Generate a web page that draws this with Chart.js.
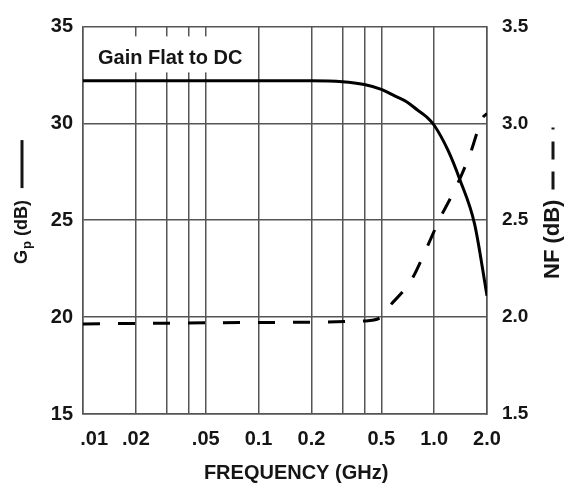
<!DOCTYPE html>
<html>
<head>
<meta charset="utf-8">
<script src="https://cdn.jsdelivr.net/npm/chart.js@4.4.0/dist/chart.umd.min.js"></script>
<style>
  html, body { margin: 0; padding: 0; background: #fff; }
</style>
</head>
<body>
<canvas id="gain-nf" width="566" height="492"></canvas>
<script>
// Gain curve (GHz, dB)
var gainFreq = [0.01, 0.1, 0.2, 0.3, 0.4, 0.5, 0.6, 0.7, 0.8, 0.9, 1.0, 1.2, 1.4, 1.7, 2.0];
var gainDb   = [32.2, 32.2, 32.2, 32.15, 32.0, 31.75, 31.4, 31.1, 30.7, 30.35, 29.9, 28.6, 27.1, 24.8, 21.1];

// Noise figure curve (GHz, dB)
var nfFreq = [0.01, 0.1, 0.4, 0.5, 0.55, 0.74, 0.91, 1.08, 1.34, 1.6, 1.88, 2.0];
var nfDb   = [1.965, 1.972, 1.98, 2.0, 2.05, 2.19, 2.36, 2.51, 2.675, 2.84, 3.025, 3.05];

// Frequency grid lines and their labels
var freqTicks  = [0.01, 0.02, 0.03, 0.04, 0.05, 0.1, 0.2, 0.3, 0.4, 0.5, 1.0, 2.0];
var freqLabels = ['    .01', '.02', '', '', '.05', '0.1', '0.2', '', '', '0.5', '1.0', '2.0'];

var gridColor = '#555';
var textColor = '#151515';
var fontName = '"Liberation Sans", Arial, sans-serif';

function toPoints(xs, ys) {
  var pts = [];
  for (var i = 0; i < xs.length; i++) pts.push({ x: xs[i], y: ys[i] });
  return pts;
}

// Axis titles with legend line samples, and the note box
var extraText = {
  id: 'extraText',
  beforeDatasetsDraw: function(chart) {
    var ctx = chart.ctx;
    var area = chart.chartArea;
    ctx.save();
    ctx.fillStyle = '#fff';
    ctx.fillRect(area.left + 1, area.top + 10, 172, 36);
    ctx.fillStyle = textColor;
    ctx.font = 'bold 20px ' + fontName;
    ctx.textBaseline = 'middle';
    ctx.fillText('Gain Flat to DC', area.left + 15, area.top + 32);
    ctx.restore();
  },
  afterDraw: function(chart) {
    var ctx = chart.ctx;
    ctx.save();
    ctx.fillStyle = textColor;
    ctx.strokeStyle = textColor;
    ctx.textBaseline = 'middle';

    // left: Gp (dB) ——
    ctx.translate(22, 264);
    ctx.rotate(-Math.PI / 2);
    ctx.font = 'bold 18px ' + fontName;
    var x = 0;
    ctx.fillText('G', x, 0);
    x += ctx.measureText('G').width;
    ctx.font = 'bold 13px ' + fontName;
    ctx.fillText('p', x + 1, 5);
    x += ctx.measureText('p').width + 1;
    ctx.font = 'bold 18px ' + fontName;
    ctx.fillText(' (dB)', x, 0);
    x += ctx.measureText(' (dB)').width;
    ctx.lineWidth = 3;
    ctx.beginPath();
    ctx.moveTo(x + 12, 0);
    ctx.lineTo(x + 60, 0);
    ctx.stroke();
    ctx.restore();

    // right: NF (dB) — —
    ctx.save();
    ctx.fillStyle = textColor;
    ctx.strokeStyle = textColor;
    ctx.textBaseline = 'middle';
    ctx.translate(553, 279);
    ctx.rotate(-Math.PI / 2);
    ctx.font = 'bold 22px ' + fontName;
    ctx.fillText('NF (dB)', 0, 0);
    x = ctx.measureText('NF (dB)').width;
    ctx.lineWidth = 3;
    ctx.setLineDash([18, 12]);
    ctx.beginPath();
    ctx.moveTo(x + 10, 0);
    ctx.lineTo(x + 72, 0);
    ctx.stroke();
    ctx.restore();
  }
};

var chart = new Chart(document.getElementById('gain-nf'), {
  type: 'line',
  data: {
    datasets: [{
      label: 'Gp',
      data: toPoints(gainFreq, gainDb),
      yAxisID: 'y',
      borderColor: '#000',
      borderWidth: 3,
      pointRadius: 0,
      cubicInterpolationMode: 'monotone',
      fill: false
    }, {
      label: 'NF',
      data: toPoints(nfFreq, nfDb),
      yAxisID: 'y1',
      borderColor: '#000',
      borderWidth: 3,
      borderDash: [17, 18],
      pointRadius: 0,
      cubicInterpolationMode: 'monotone',
      fill: false
    }]
  },
  options: {
    responsive: false,
    animation: false,
    devicePixelRatio: 1,
    layout: { autoPadding: false, padding: { top: 15, left: 0, right: 0, bottom: 0 } },
    plugins: {
      legend: { display: false },
      tooltip: { enabled: false }
    },
    scales: {
      x: {
        type: 'logarithmic',
        min: 0.01,
        max: 2.0,
        afterBuildTicks: function(scale) {
          scale.ticks = freqTicks.map(function(v) { return { value: v }; });
        },
        afterFit: function(scale) { scale.height = 78; },
        grid: { color: gridColor, lineWidth: 1.5, drawTicks: false },
        border: { color: gridColor, width: 1.5 },
        ticks: {
          autoSkip: false,
          maxRotation: 0,
          padding: 13,
          color: textColor,
          font: { family: fontName, size: 20, weight: 'bold' },
          callback: function(value) {
            var i = freqTicks.indexOf(value);
            return i < 0 ? '' : freqLabels[i];
          }
        },
        title: {
          display: true,
          text: '    FREQUENCY (GHz)',
          color: textColor,
          padding: { top: 0, bottom: 7 },
          font: { family: fontName, size: 20, weight: 'bold' }
        }
      },
      y: {
        position: 'left',
        min: 15,
        max: 35,
        afterFit: function(scale) { scale.width = 83; },
        grid: { color: gridColor, lineWidth: 1.5, drawTicks: false },
        border: { color: gridColor, width: 1.5 },
        ticks: {
          stepSize: 5,
          padding: 10,
          color: textColor,
          font: { family: fontName, size: 20, weight: 'bold' }
        }
      },
      y1: {
        position: 'right',
        min: 1.5,
        max: 3.5,
        afterFit: function(scale) { scale.width = 79; },
        grid: { display: false, drawTicks: false },
        border: { color: gridColor, width: 1.5 },
        ticks: {
          stepSize: 0.5,
          padding: 15,
          color: textColor,
          font: { family: fontName, size: 19, weight: 'bold' },
          callback: function(value) { return value.toFixed(1); }
        }
      }
    }
  },
  plugins: [extraText]
});
</script>
</body>
</html>
